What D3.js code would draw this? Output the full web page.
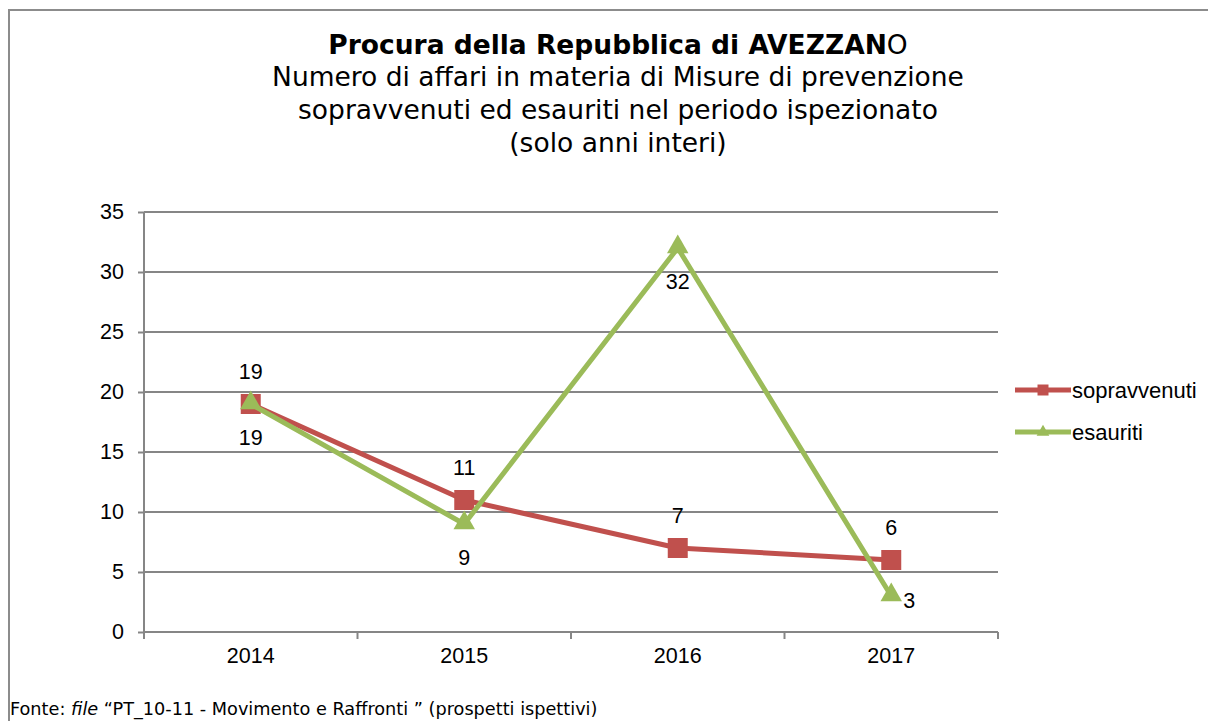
<!DOCTYPE html>
<html>
<head>
<meta charset="utf-8">
<script src="https://cdn.jsdelivr.net/npm/d3@7"></script>
<style>
  body { margin: 0; background: #fff; }
  svg { display: block; }
</style>
</head>
<body>
<script>
// Data.
var years = ["2014", "2015", "2016", "2017"],
  sopravvenuti = [19, 11, 7, 6],
  esauriti = [19, 9, 32, 3],
  yTicks = [0, 5, 10, 15, 20, 25, 30, 35];

// Configuration.
var width = 1208,
  height = 721,
  plotLeft = 144,
  plotRight = 998,
  plotTop = 212,
  plotBottom = 632,
  red = "#C0504D",
  green = "#9BBB59",
  grid = "#868686",
  labelSize = "21.5px",
  labelFont = '"Liberation Sans", Arial, sans-serif',
  titleFont = '"DejaVu Sans", Verdana, sans-serif';

var svg = d3.select("body").append("svg")
    .attr("width", width)
    .attr("height", height);

// Chart frame (only the left and top edges are inside the picture).
svg.append("path")
    .attr("d", "M9,721V10H1208")
    .attr("fill", "none")
    .attr("stroke", "#8c8c8c")
    .attr("stroke-width", 2);

// Title.
var title = svg.append("text")
    .attr("x", 618)
    .attr("text-anchor", "middle")
    .style("font-family", titleFont)
    .style("fill", "#000");
var t1 = title.append("tspan").attr("x", 618).attr("y", 54)
    .style("font-size", "26.5px");
t1.append("tspan").style("font-weight", "bold").text("Procura della Repubblica di AVEZZAN");
t1.append("tspan").text("O");
["Numero di affari in materia di Misure di prevenzione",
 "sopravvenuti ed esauriti nel periodo ispezionato",
 "(solo anni interi)"].forEach(function(s, i) {
  title.append("tspan")
      .attr("x", 618)
      .attr("y", 86 + i * 33)
      .style("font-size", "26.5px")
      .text(s);
});

// Scales.
var x = d3.scaleBand()
    .domain(years)
    .range([plotLeft, plotRight]);
var y = d3.scaleLinear()
    .domain([0, 35])
    .range([plotBottom, plotTop]);

// Grid lines.
svg.append("g")
  .selectAll("line")
    .data(yTicks.filter(function(d) { return d > 0; }))
  .enter().append("line")
    .attr("x1", plotLeft)
    .attr("x2", plotRight)
    .attr("y1", function(d) { return y(d); })
    .attr("y2", function(d) { return y(d); })
    .attr("stroke", grid)
    .attr("stroke-width", 2);

// Y axis.
var yAxis = svg.append("g")
    .attr("transform", "translate(" + plotLeft + ",0)")
    .call(d3.axisLeft(y).tickValues(yTicks).tickSize(6).tickPadding(14));
yAxis.select(".domain").attr("stroke", grid).attr("stroke-width", 2).attr("d", "M0," + plotTop + "V" + plotBottom);
yAxis.selectAll(".tick line").attr("stroke", grid).attr("stroke-width", 2);
yAxis.selectAll("text")
    .style("font-family", labelFont)
    .style("font-size", labelSize)
    .attr("fill", "#000");

// X axis.
var xAxis = svg.append("g")
    .attr("transform", "translate(0," + plotBottom + ")")
    .call(d3.axisBottom(x).tickSize(0).tickPadding(16));
xAxis.select(".domain").attr("stroke", grid).attr("stroke-width", 2).attr("d", "M" + plotLeft + ",0H" + plotRight);
xAxis.selectAll("text")
    .style("font-family", labelFont)
    .style("font-size", labelSize)
    .attr("fill", "#000");
// Category boundary ticks.
xAxis.selectAll(".bound")
    .data(years.map(function(d) { return x(d); }).concat([plotRight]))
  .enter().append("line")
    .attr("x1", function(d) { return d; })
    .attr("x2", function(d) { return d; })
    .attr("y1", 0)
    .attr("y2", 7)
    .attr("stroke", grid)
    .attr("stroke-width", 2);

function cx(d, i) { return x(years[i]) + x.bandwidth() / 2; }

var line = d3.line()
    .x(function(d, i) { return cx(d, i); })
    .y(function(d) { return y(d); });

var square = d3.symbol().type(d3.symbolSquare).size(400),
  triangle = d3.symbol().type(d3.symbolTriangle).size(200);

var series = [
  { name: "sopravvenuti", values: sopravvenuti, color: red, symbol: square },
  { name: "esauriti", values: esauriti, color: green, symbol: triangle }
];

series.forEach(function(s) {
  svg.append("path")
      .datum(s.values)
      .attr("d", line)
      .attr("fill", "none")
      .attr("stroke", s.color)
      .attr("stroke-width", 5)
      .attr("stroke-linejoin", "round");
  svg.append("g")
    .selectAll("path")
      .data(s.values)
    .enter().append("path")
      .attr("d", s.symbol)
      .attr("transform", function(d, i) {
        return "translate(" + cx(d, i) + "," + (y(d) + (s.symbol === triangle ? -1 : 0)) + ")";
      })
      .attr("fill", s.color);
});

// Data labels.
var labels = svg.append("g")
    .style("font-family", labelFont)
    .style("font-size", labelSize)
    .attr("fill", "#000");
labels.selectAll(".lab-s")
    .data(sopravvenuti)
  .enter().append("text")
    .attr("x", function(d, i) { return cx(d, i); })
    .attr("y", function(d) { return y(d) - 25; })
    .attr("text-anchor", "middle")
    .text(function(d) { return d; });
labels.selectAll(".lab-e")
    .data(esauriti)
  .enter().append("text")
    .attr("x", function(d, i) { return i === 3 ? cx(d, i) + 12 : cx(d, i); })
    .attr("y", function(d, i) { return i === 3 ? y(d) + 12 : y(d) + 41; })
    .attr("text-anchor", function(d, i) { return i === 3 ? "start" : "middle"; })
    .text(function(d) { return d; });

// Legend.
var legend = svg.append("g")
  .selectAll("g")
    .data(series)
  .enter().append("g")
    .attr("transform", function(d, i) { return "translate(1015," + (390 + i * 42) + ")"; });
legend.append("line")
    .attr("x1", 0)
    .attr("x2", 56)
    .attr("stroke", function(d) { return d.color; })
    .attr("stroke-width", 5);
legend.append("path")
    .attr("d", function(d) { return d.symbol === square ? d3.symbol().type(d3.symbolSquare).size(121)() : d3.symbol().type(d3.symbolTriangle).size(70)(); })
    .attr("transform", "translate(28,0)")
    .attr("fill", function(d) { return d.color; });
legend.append("text")
    .attr("x", 57)
    .attr("y", 8)
    .style("font-family", labelFont)
    .style("font-size", "22px")
    .text(function(d) { return d.name; });

// Source note.
var note = svg.append("text")
    .attr("x", 10)
    .attr("y", 715)
    .style("font-family", titleFont)
    .style("font-size", "17.7px");
note.append("tspan").text("Fonte: ");
note.append("tspan").style("font-style", "italic").text("file");
note.append("tspan").text(" \u201cPT_10-11 - Movimento e Raffronti \u201d (prospetti ispettivi)");
</script>
</body>
</html>
